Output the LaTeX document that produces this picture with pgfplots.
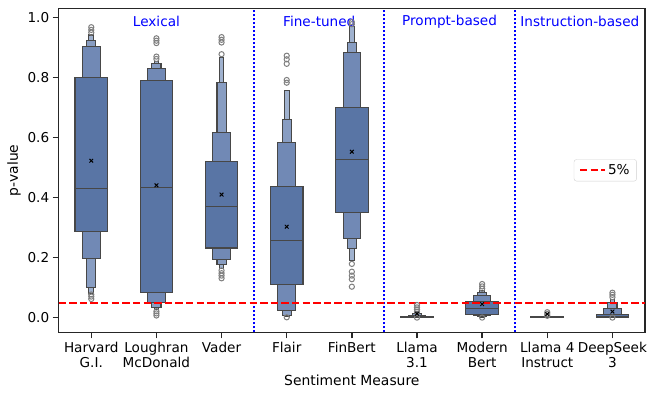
\documentclass[border=0pt]{standalone}
\usepackage{fontspec}
\setmainfont{DejaVu Sans}
\usepackage{pgfplots}
\pgfplotsset{compat=1.18}
\definecolor{lvA}{HTML}{5975A5}
\definecolor{lvB}{HTML}{7189B5}
\definecolor{lvC}{HTML}{889DC2}
\definecolor{lvD}{HTML}{A0B2CF}
\definecolor{edge}{HTML}{474747}
\definecolor{flier}{HTML}{7F7F7F}
\definecolor{spine}{HTML}{262626}

% one letter-value box: x, half width, low, high, fill
\newcommand{\lvbox}[5]{%
  \pgfmathsetmacro\xl{#1-#2}\pgfmathsetmacro\xr{#1+#2}%
  \edef\tmp{\noexpand\addplot[forget plot,fill=#5,draw=edge,line width=1.1pt]
    coordinates {(\xl,#3) (\xr,#3) (\xr,#4) (\xl,#4)} -- cycle;}\tmp}
% a whole category: x, then low/high of levels 1..4
\newcommand{\boxen}[9]{%
  \lvbox{#1}{0.036}{#8}{#9}{lvD}%
  \lvbox{#1}{0.07}{#6}{#7}{lvC}%
  \lvbox{#1}{0.135}{#4}{#5}{lvB}%
  \lvbox{#1}{0.25}{#2}{#3}{lvA}}
\newcommand{\median}[2]{%
  \pgfmathsetmacro\xl{#1-0.25}\pgfmathsetmacro\xr{#1+0.25}%
  \edef\tmp{\noexpand\addplot[forget plot,draw=edge,line width=1.1pt]
    coordinates {(\xl,#2) (\xr,#2)};}\tmp}

\begin{document}
\begin{tikzpicture}
\useasboundingbox (-58.7pt,-64.7pt) rectangle (594.3pt,332.3pt);
\begin{axis}[
  scale only axis,
  width=586.3pt, height=324pt,
  xmin=-0.5, xmax=8.5,
  ymin=-0.049, ymax=1.031,
  font=\fontsize{13.6}{15}\selectfont,
  axis line style={draw=spine,line width=1.3pt},
  tick style={draw=spine,line width=1.3pt},
  major tick length=6pt,
  tick align=outside,
  xtick pos=bottom, ytick pos=left,
  xtick={0,1,2,3,4,5,6,7,8},
  xticklabels={Harvard\\G.I.,Loughran\\McDonald,Vader,Flair,FinBert,Llama\\3.1,Modern\\Bert,Llama 4\\Instruct,DeepSeek\\3},
  x tick label style={align=center,font=\fontsize{13.6}{15}\selectfont},
  ytick={0,0.2,0.4,0.6,0.8,1.0},
  yticklabel style={/pgf/number format/.cd,fixed,fixed zerofill,precision=1,assume math mode=true},
  xlabel={Sentiment Measure},
  ylabel={p-value},
  label style={font=\fontsize{13.9}{16}\selectfont},
  xlabel style={yshift=-1pt},
  legend style={at={(0.986,0.5)},anchor=east,draw=black!18,rounded corners=2.5pt,
    font=\fontsize{13.6}{15}\selectfont,inner xsep=5pt,inner ysep=3pt},
  legend image code/.code={\draw[#1] (0pt,0pt) -- (25pt,0pt);},
  legend cell align=left,
]
% levels: L1 lo hi, L2 lo hi, L3 lo hi, L4 lo hi
\boxen{0}{0.288}{0.799}{0.197}{0.905}{0.101}{0.923}{0.081}{0.942}
\boxen{1}{0.085}{0.791}{0.049}{0.829}{0.034}{0.846}{0.027}{0.855}
\boxen{2}{0.232}{0.520}{0.194}{0.616}{0.176}{0.784}{0.165}{0.868}
\boxen{3}{0.109}{0.437}{0.023}{0.585}{0.008}{0.659}{0.003}{0.756}
\boxen{4}{0.349}{0.699}{0.263}{0.884}{0.229}{0.918}{0.190}{0.970}
\boxen{5}{0.000}{0.004}{0.000}{0.008}{0.000}{0.014}{0.000}{0.020}
\boxen{6}{0.011}{0.053}{0.008}{0.073}{0.004}{0.083}{0.002}{0.090}
\boxen{7}{0.000}{0.002}{0.000}{0.002}{0.000}{0.002}{0.000}{0.002}
\boxen{8}{0.001}{0.011}{0.000}{0.031}{0.000}{0.051}{0.000}{0.060}
\median{0}{0.429}
\median{1}{0.434}
\median{2}{0.369}
\median{3}{0.257}
\median{4}{0.528}
\median{5}{0.001}
\median{6}{0.029}
\median{7}{0.000}
\median{8}{0.004}
% outliers
\addplot[forget plot,only marks,mark=o,mark size=2.6pt,draw=flier,line width=1pt] coordinates {
  (0,0.968) (0,0.959) (0,0.950) (0,0.077) (0,0.070) (0,0.062)
  (1,0.931) (1,0.923) (1,0.915) (1,0.870) (1,0.862) (1,0.021) (1,0.014) (1,0.007)
  (2,0.935) (2,0.926) (2,0.917) (2,0.878) (2,0.157) (2,0.148) (2,0.140) (2,0.131)
  (3,0.873) (3,0.861) (3,0.846) (3,0.792) (3,0.783) (3,0.001)
  (4,0.985) (4,0.978) (4,0.179) (4,0.153) (4,0.140) (4,0.128) (4,0.103)
  (5,0.042) (5,0.034) (5,0.027) (5,0.020) (5,0.000)
  (6,0.112) (6,0.104) (6,0.096) (6,0.000)
  (7,0.018) (7,0.012) (7,0.006)
  (8,0.083) (8,0.076) (8,0.068) (8,0.000)
};
% group separators
\addplot[forget plot,draw=blue,line width=2pt,dash pattern=on 2pt off 2pt] coordinates {(2.5,-0.049) (2.5,1.031)};
\addplot[forget plot,draw=blue,line width=2pt,dash pattern=on 2pt off 2pt] coordinates {(4.5,-0.049) (4.5,1.031)};
\addplot[forget plot,draw=blue,line width=2pt,dash pattern=on 2pt off 2pt] coordinates {(6.5,-0.049) (6.5,1.031)};
% 5% threshold
\addplot[draw=red,line width=2pt,dash pattern=on 7.4pt off 3.2pt] coordinates {(-0.5,0.05) (8.5,0.05)};
\addlegendentry{5\%}
% means
\addplot[forget plot,only marks,mark=x,mark size=2.6pt,draw=black,line width=1pt] coordinates {
  (0,0.523) (1,0.441) (2,0.410) (3,0.303) (4,0.553) (5,0.013) (6,0.045) (7,0.012) (8,0.020)
};
\node[text=blue] at (axis cs:1,0.987) {Lexical};
\node[text=blue] at (axis cs:3.5,0.987) {Fine-tuned};
\node[text=blue] at (axis cs:5.5,0.987) {Prompt-based};
\node[text=blue] at (axis cs:7.5,0.987) {Instruction-based};
\end{axis}
\end{tikzpicture}
\end{document}
